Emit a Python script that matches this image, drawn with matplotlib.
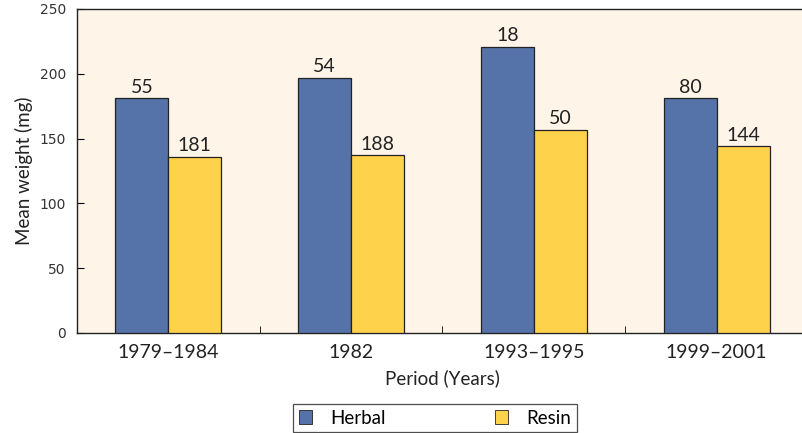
import matplotlib
matplotlib.use("Agg")
import matplotlib.pyplot as plt
import numpy as np
from matplotlib.patches import Patch

categories = ["1979–1984", "1982", "1993–1995", "1999–2001"]
herbal = [181, 197, 221, 181]
resin = [136, 137, 157, 144]
herbal_n = ["55", "54", "18", "80"]
resin_n = ["181", "188", "50", "144"]

blue = "#5573A8"
yellow = "#FFD24C"
bg = "#FEF5E8"
fam = ["Lato", "DejaVu Sans"]

fig = plt.figure(figsize=(8.03, 4.33), dpi=100)
ax = fig.add_axes([77/803, 1-333/433, 731/803, (333-9)/433])
ax.set_facecolor(bg)

x = np.arange(len(categories))
w = 0.29
b1 = ax.bar(x - w/2, herbal, w, color=blue, edgecolor="#222222", linewidth=0.9, zorder=3)
b2 = ax.bar(x + w/2, resin, w, color=yellow, edgecolor="#222222", linewidth=0.9, zorder=3)
for rect, lab in zip(b1, herbal_n):
    ax.text(rect.get_x() + rect.get_width()/2, rect.get_height() + 2, lab,
            ha="center", va="bottom", fontsize=14, family=fam, color="#222222")
for rect, lab in zip(b2, resin_n):
    ax.text(rect.get_x() + rect.get_width()/2, rect.get_height() + 2, lab,
            ha="center", va="bottom", fontsize=14, family=fam, color="#222222")

ax.set_xlim(-0.5, 3.5)
ax.set_ylim(0, 250)
ax.set_yticks([0, 50, 100, 150, 200, 250])
ax.tick_params(axis="y", direction="in", length=5, labelsize=10, labelcolor="#333333", pad=8)
ax.set_xticks(x)
ax.set_xticklabels(categories, family=fam, fontsize=14, color="#222222")
ax.set_xticks([0.5, 1.5, 2.5], minor=True)
ax.tick_params(axis="x", which="major", length=0, pad=8)
ax.tick_params(axis="x", which="minor", direction="in", length=5)
for s in ["left", "bottom", "top"]:
    ax.spines[s].set_color("#222222")
    ax.spines[s].set_linewidth(1.0)
ax.spines["right"].set_visible(False)

ax.set_ylabel("Mean weight (mg)", family=fam, fontsize=13.5, color="#222222", labelpad=5)
ax.set_xlabel("Period (Years)", family=fam, fontsize=13.5, color="#222222", labelpad=6)

handles = [Patch(facecolor=blue, edgecolor="#222222", linewidth=0.6),
           Patch(facecolor=yellow, edgecolor="#222222", linewidth=0.6)]
leg = fig.legend(handles, ["Herbal", "Resin"], loc="center", bbox_to_anchor=(435/803, 1-418/433),
                 ncol=2, frameon=True, fancybox=False, edgecolor="#222222",
                 prop={"family": fam, "size": 13.5}, handlelength=0.7, handleheight=0.7,
                 columnspacing=5.8, borderpad=0.3, handletextpad=1.0, borderaxespad=0)
leg.get_frame().set_linewidth(0.9)

fig.savefig("out.png", dpi=100, facecolor="white")
